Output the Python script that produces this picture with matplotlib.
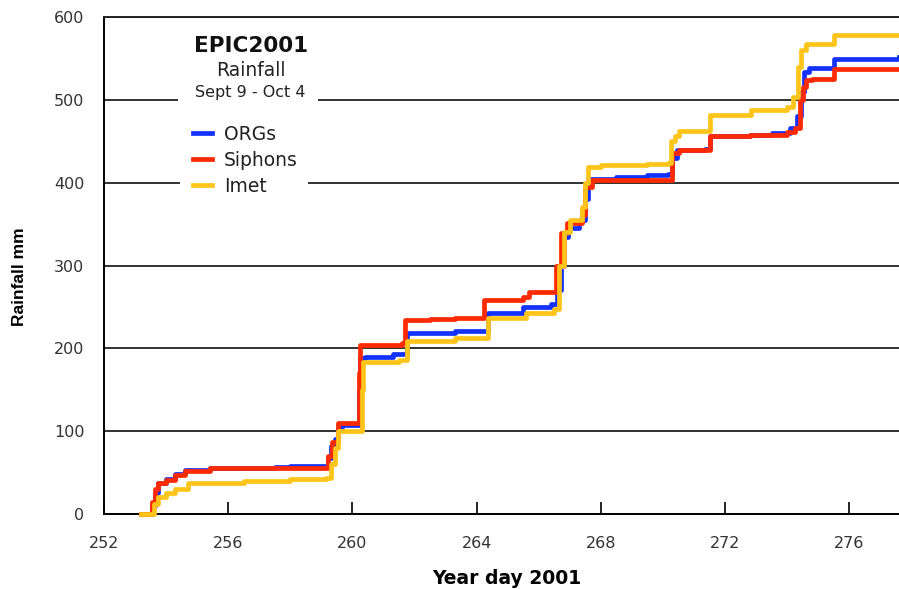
import matplotlib
matplotlib.use("Agg")
import matplotlib.pyplot as plt
from matplotlib.patches import Rectangle

# Cumulative rainfall (mm) against year day 2001
orgs_day = [253.2, 253.45, 253.55, 253.65, 253.75, 254.0, 254.3, 254.6, 255.4, 257.5, 258.0, 259.05,
            259.2, 259.3, 259.45, 259.55, 259.65, 260.15, 260.2, 260.25, 260.4, 261.3, 261.75, 263.3,
            264.35, 265.5, 266.4, 266.6, 266.7, 266.8, 266.95, 267.3, 267.5, 267.6, 268.5, 269.5,
            270.15, 270.3, 270.45, 271.35, 271.5, 272.8, 273.5, 274.1, 274.3, 274.45, 274.55, 274.7,
            275.4, 275.5, 277.6]
orgs_mm = [0, 0, 10, 25, 38, 42, 48, 53, 56, 57, 58, 58,
           68, 82, 90, 105, 107, 107, 150, 188, 190, 193, 219, 221,
           243, 250, 253, 270, 300, 335, 345, 355, 380, 405, 407, 409,
           410, 430, 439, 441, 456, 458, 460, 466, 480, 510, 534, 538,
           538, 549, 552]

siphons_day = [253.2, 253.45, 253.55, 253.65, 253.75, 254.0, 254.3, 254.6, 255.4, 259.05, 259.2, 259.35,
               259.5, 259.55, 260.15, 260.2, 260.25, 261.6, 261.7, 262.5, 263.3, 264.25, 265.5, 265.7,
               266.45, 266.55, 266.7, 266.9, 267.4, 267.5, 267.7, 270.2, 270.3, 270.5, 271.4, 271.5,
               272.8, 274.0, 274.25, 274.4, 274.5, 274.6, 274.8, 275.4, 275.5, 277.6]
siphons_mm = [0, 0, 15, 30, 38, 41, 47, 52, 55, 56, 70, 87,
              88, 110, 110, 170, 204, 207, 234, 236, 237, 258, 262, 268,
              268, 300, 339, 351, 361, 395, 403, 403, 436, 440, 440, 456,
              458, 461, 466, 500, 516, 524, 525, 525, 537, 537]

imet_day = [253.2, 253.5, 253.6, 253.75, 254.0, 254.3, 254.7, 255.0, 256.5, 258.0, 259.15, 259.3,
            259.45, 259.55, 260.25, 260.3, 260.35, 261.5, 261.75, 263.3, 264.35, 265.6, 266.5, 266.65,
            266.8, 267.0, 267.4, 267.5, 267.6, 268.0, 269.5, 270.15, 270.25, 270.4, 270.5, 271.4,
            271.5, 272.8, 272.85, 274.0, 274.2, 274.35, 274.45, 274.6, 275.4, 275.5, 277.6]
imet_mm = [0, 0, 12, 20, 25, 30, 37, 38, 40, 42, 43, 60,
           80, 100, 100, 150, 184, 186, 209, 212, 237, 243, 248, 300,
           340, 355, 371, 400, 419, 421, 423, 424, 450, 456, 462, 462,
           482, 482, 488, 491, 504, 540, 560, 568, 568, 578, 578]

series = [
    ("ORGs", orgs_day, orgs_mm, "#1432ff"),
    ("Siphons", siphons_day, siphons_mm, "#ff2a00"),
    ("Imet", imet_day, imet_mm, "#ffc41a"),
]

x_ticks = [252, 256, 260, 264, 268, 272, 276]
y_ticks = [0, 100, 200, 300, 400, 500, 600]

fig = plt.figure(figsize=(8.99, 5.89), dpi=100)
ax = fig.add_axes([104 / 899, 75 / 589, 795 / 899, 497 / 589])

for name, days, mm, colour in series:
    ax.plot(days, mm, drawstyle="steps-post", color=colour, lw=3.4,
            label=name, clip_on=False, zorder=3)

ax.set_xlim(252, 277.6)
ax.set_ylim(0, 600)
ax.set_xticks(x_ticks)
ax.set_yticks(y_ticks)

ax.set_axisbelow(True)
ax.yaxis.grid(True, color="#222222", lw=1.3)
ax.spines["right"].set_visible(False)
ax.spines["top"].set_color("#222222")
for side in ["left", "bottom", "top"]:
    ax.spines[side].set_linewidth(1.4)

ax.tick_params(axis="x", direction="in", length=9, width=1.2, pad=16,
               labelsize=11.5, labelcolor="#333333")
ax.tick_params(axis="y", length=0, pad=14, labelsize=11.5, labelcolor="#333333")

ax.set_ylabel("Rainfall mm", fontsize=12.5, fontweight="bold",
              family="Liberation Sans", va="center")
ax.yaxis.set_label_coords(-0.106, 0.477)
ax.set_xlabel("Year day 2001", fontsize=13.5, fontweight="bold", va="center")
ax.xaxis.set_label_coords(0.507, -0.129)

# white boxes behind the title block and the legend
def px_box(x0, x1, y0, y1):
    return Rectangle(((x0 - 104) / 795, (514 - y1) / 497), (x1 - x0) / 795, (y1 - y0) / 497,
                     transform=ax.transAxes, facecolor="white", edgecolor="none", zorder=1)

ax.add_patch(px_box(178, 318, 25, 110))
ax.add_patch(px_box(180, 308, 115, 197))

def ax_xy(px, py):
    return (px - 104) / 795, (514 - py) / 497

ax.text(*ax_xy(251, 46), "EPIC2001", transform=ax.transAxes, ha="center", va="center",
        fontsize=15.5, fontweight="bold", color="#111111", zorder=2)
ax.text(*ax_xy(251, 70), "Rainfall", transform=ax.transAxes, ha="center", va="center",
        fontsize=13.5, color="#222222", zorder=2)
ax.text(*ax_xy(250, 92), "Sept 9 - Oct 4", transform=ax.transAxes, ha="center", va="center",
        fontsize=11.5, color="#222222", zorder=2)

leg = ax.legend(loc="upper left", bbox_to_anchor=ax_xy(193, 125), frameon=False,
                borderpad=0, borderaxespad=0, handlelength=1.0, handletextpad=0.65,
                labelspacing=0.36, fontsize=13.5)
for t in leg.get_texts():
    t.set_color("#222222")
for h in leg.get_lines():
    h.set_linewidth(3.4)

fig.savefig("out.png", dpi=100)
